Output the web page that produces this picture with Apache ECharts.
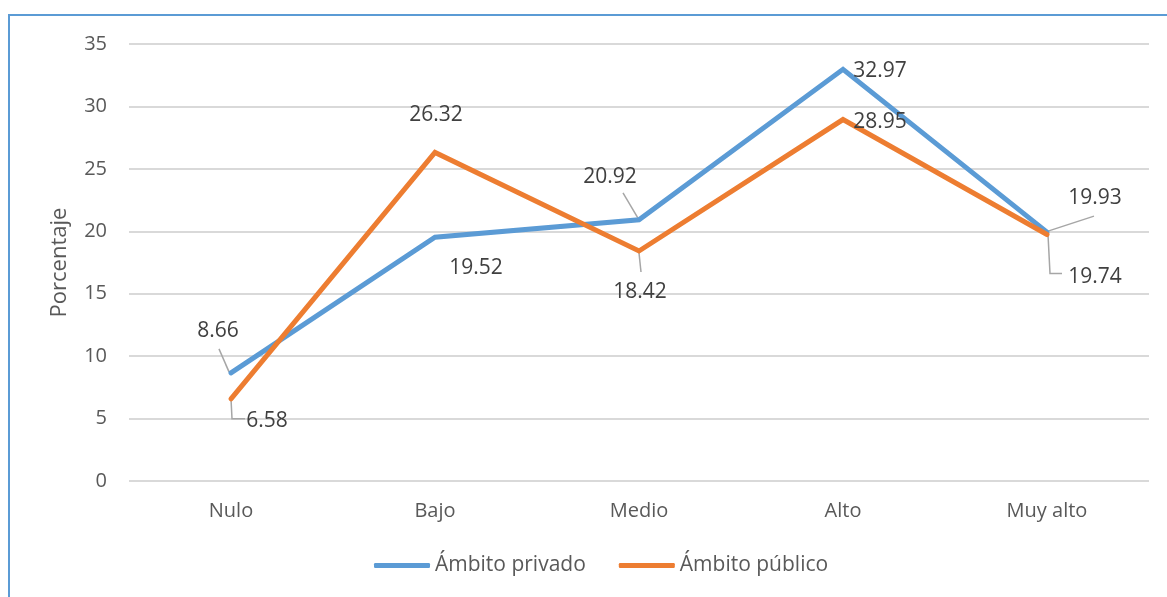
<!DOCTYPE html>
<html>
<head>
<meta charset="utf-8">
<script src="https://cdn.jsdelivr.net/npm/echarts@6/dist/echarts.min.js"></script>
<style>
html,body{margin:0;padding:0;background:#fff;overflow:hidden;}
#frame{position:absolute;left:8px;top:14px;width:1200px;height:640px;border:2px solid #5B9BD5;box-sizing:border-box;}
#chart{position:absolute;left:0;top:0;width:1167px;height:597px;}
</style>
</head>
<body>
<div id="frame"></div>
<div id="chart"></div>
<script>
const categories = ['Nulo', 'Bajo', 'Medio', 'Alto', 'Muy alto'];
const privado = [8.66, 19.52, 20.92, 32.97, 19.93];
const publico = [6.58, 26.32, 18.42, 28.95, 19.74];
const yTicks = [0, 5, 10, 15, 20, 25, 30, 35];

// label placement: offset of label centre from its point (pixels)
const privOffsets = [[-13,-42],[41,31],[-29,-43],[37,2],[48,-34]];
const pubOffsets  = [[36,22],[1,-37],[1,41],[37,2],[48,42]];
// leader-line shapes (pixel offsets from the point), null = none
const privLeaders = [[[-2,-1],[-12,-24]], null, [[0,0],[-16,-27]], null, [[1,-1],[47,-16]]];
const pubLeaders  = [[[0,0],[1,20],[14,20]], null, [[0,2],[2,21]], null, [[1,0],[3,39],[15,39]]];

const FONT = '"Open Sans", "Noto Sans", sans-serif';
const TXT = '#595959';
const LBL = '#404040';

// leader data: [categoryIndex, value, seriesIdx]
const leaderData = [];
[[privado, privLeaders, 0],[publico, pubLeaders, 1]].forEach(([vals, leaders, s]) => {
  vals.forEach((v, i) => { if (leaders[i]) leaderData.push([i, v, s]); });
});

function renderLeader(params, api){
  const i = api.value(0), v = api.value(1), s = api.value(2);
  const pt = api.coord([i, v]);
  const shape = (s === 0 ? privLeaders : pubLeaders)[i];
  return {
    type:'polyline',
    shape:{points: shape.map(d => [pt[0] + d[0], pt[1] + d[1]])},
    style:{stroke:'#A6A6A6', lineWidth:1.5, fill:null},
    z2: 1
  };
}

const chart = echarts.init(document.getElementById('chart'), null, {renderer:'canvas'});
const lblStyle = {show:true, position:'inside', fontFamily:FONT, fontSize:21, color:LBL,
        formatter:(p)=>p.value.toFixed(2)};
chart.setOption({
  animation:false,
  backgroundColor:'transparent',
  grid:{left:129, right:18, top:44, bottom:116, containLabel:false},
  legend:{
    bottom:16, left:369,
    itemWidth:56, itemHeight:5, itemGap:33,
    icon:'roundRect',
    textStyle:{fontFamily:FONT, fontSize:21, color:TXT},
    data:['Ámbito privado','Ámbito público']
  },
  xAxis:{
    type:'category', data:categories, boundaryGap:true,
    axisLine:{show:false}, axisTick:{show:false},
    axisLabel:{fontFamily:FONT, fontSize:20, color:TXT, margin:20}
  },
  yAxis:{
    type:'value', min:0, max:35, interval:5,
    name:'Porcentaje', nameLocation:'middle', nameGap:58, nameRotate:90,
    nameTextStyle:{fontFamily:FONT, fontSize:22, color:TXT},
    axisLine:{show:false}, axisTick:{show:false},
    axisLabel:{fontFamily:FONT, fontSize:20, color:TXT, margin:22,
      formatter:(v)=> yTicks.includes(v) ? String(v) : ''},
    splitLine:{lineStyle:{color:'#D9D9D9', width:2}}
  },
  series:[
    {
      name:'leaders', type:'custom', data:leaderData, renderItem:renderLeader,
      silent:true, z:1, encode:{x:0, y:1}
    },
    {
      name:'Ámbito privado', type:'line', data:privado, z:3,
      symbol:'circle', symbolSize:1, showSymbol:true,
      lineStyle:{color:'#5B9BD5', width:5, cap:'round', join:'miter'},
      itemStyle:{color:'#5B9BD5'},
      label:lblStyle,
      labelLayout:(p)=>{ const o = privOffsets[p.dataIndex]; return {dx:o[0], dy:o[1]}; }
    },
    {
      name:'Ámbito público', type:'line', data:publico, z:4,
      symbol:'circle', symbolSize:1, showSymbol:true,
      lineStyle:{color:'#ED7D31', width:5, cap:'round', join:'miter'},
      itemStyle:{color:'#ED7D31'},
      label:lblStyle,
      labelLayout:(p)=>{ const o = pubOffsets[p.dataIndex]; return {dx:o[0], dy:o[1]}; }
    }
  ]
});
</script>
</body>
</html>
